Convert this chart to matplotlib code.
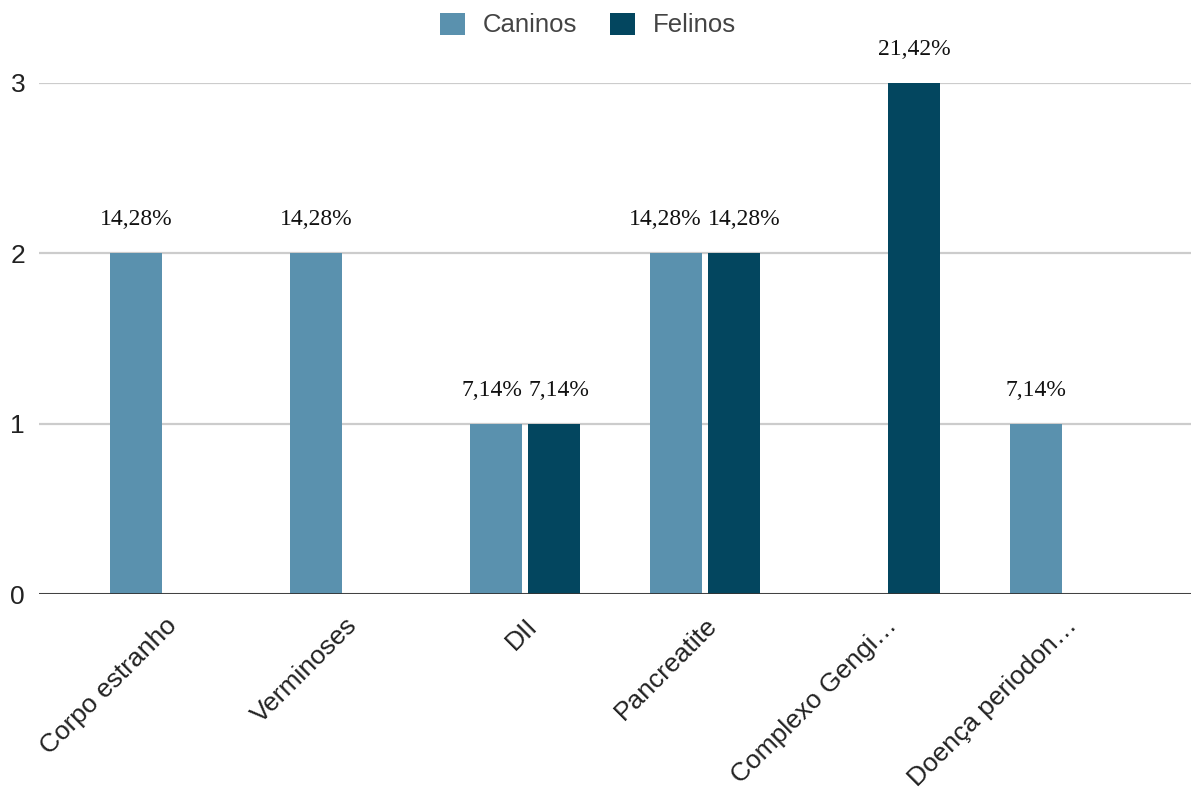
import matplotlib
matplotlib.use("Agg")
import matplotlib.pyplot as plt
import numpy as np
from matplotlib.patches import Patch
from matplotlib.transforms import offset_copy

categories = ["Corpo estranho", "Verminoses", "DII", "Pancreatite",
              "Complexo Gengi…", "Doença periodon…"]
caninos = [2, 2, 1, 2, 0, 1]
felinos = [0, 0, 1, 2, 3, 0]
caninos_labels = ["14,28%", "14,28%", "7,14%", "14,28%", "", "7,14%"]
felinos_labels = ["", "", "7,14%", "14,28%", "21,42%", ""]
series_names = ["Caninos", "Felinos"]
colors = ["#5a91ae", "#03465f"]
yticks = [0, 1, 2, 3]

W, H = 1191, 789
fig = plt.figure(figsize=(W / 100, H / 100), dpi=100)
ax = fig.add_axes([39 / W, (H - 594) / H, (W - 39) / W, (594 - 83) / H])

x = np.arange(len(categories))
bw = 0.294
off = 0.161
label_kw = dict(fontsize=17, family="Liberation Serif", color="#111111",
                annotation_clip=False, textcoords="offset pixels", va="baseline")
for i, xi in enumerate(x):
    both = caninos[i] > 0 and felinos[i] > 0
    for vals, labs, sign, col in [(caninos, caninos_labels, -1, colors[0]),
                                  (felinos, felinos_labels, 1, colors[1])]:
        v = vals[i]
        if v <= 0:
            continue
        ax.bar(xi + sign * off, v, width=bw, color=col, zorder=3)
        if both:
            # labels pushed apart from the category center
            ax.annotate(labs[i], (xi, v), xytext=(sign * 3, 28),
                        ha="right" if sign < 0 else "left", **label_kw)
        else:
            ax.annotate(labs[i], (xi + sign * off, v), xytext=(0, 28),
                        ha="center", **label_kw)

ax.set_xlim(-0.7, 5.7)
ax.set_ylim(0, 3)
ax.set_yticks(yticks)
ax.set_yticklabels([str(t) for t in yticks])
ax.yaxis.grid(True, color="#cccccc", linewidth=1.6, zorder=0)
ax.set_axisbelow(True)
for s in ax.spines.values():
    s.set_visible(False)
ax.axhline(0, color="#333333", linewidth=2, zorder=4)
ax.tick_params(axis="y", length=0, pad=10, labelsize=19, labelcolor="#222222")
ax.tick_params(axis="x", length=0, pad=14)
ax.set_xticks(x)
ax.set_xticklabels(categories, rotation=45, ha="right", va="top",
                   rotation_mode="anchor", fontsize=19, color="#222222")
for lbl in ax.get_yticklabels() + ax.get_xticklabels():
    lbl.set_family("Liberation Sans")

handles = [Patch(facecolor=c, edgecolor="none", label=n) for c, n in zip(colors, series_names)]
leg = fig.legend(handles=handles, loc="center", bbox_to_anchor=(588 / W, 1 - 25 / H),
                 ncol=2, frameon=False, handlelength=0.95, handleheight=0.95,
                 columnspacing=1.3, handletextpad=0.7,
                 prop={"family": "Liberation Sans", "size": 18.5})
for t in leg.get_texts():
    t.set_color("#444444")

fig.savefig("out.png", dpi=100)
